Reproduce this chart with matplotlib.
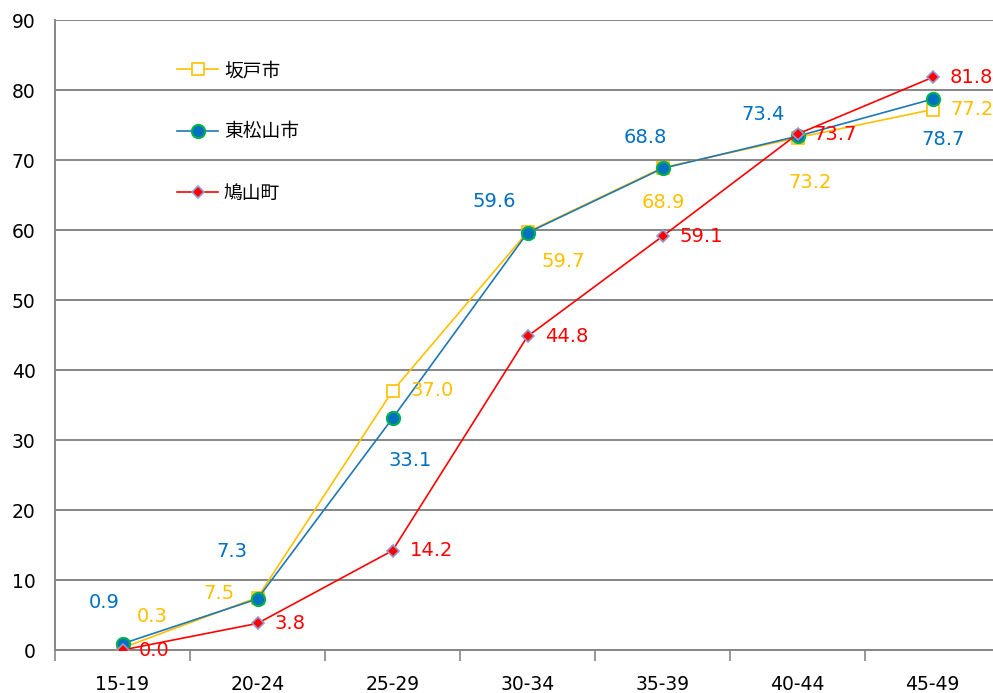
import matplotlib.pyplot as plt

plt.rcParams['font.family'] = ['DejaVu Sans', 'Noto Sans CJK JP']

ages = ['15-19', '20-24', '25-29', '30-34', '35-39', '40-44', '45-49']
sakado = [0.3, 7.5, 37.0, 59.7, 68.9, 73.2, 77.2]
higashimatsuyama = [0.9, 7.3, 33.1, 59.6, 68.8, 73.4, 78.7]
hatoyama = [0.0, 3.8, 14.2, 44.8, 59.1, 73.7, 81.8]

# label offsets in pixels (dx, dy) for each point
off_sakado = [(30, 31), (-39, 4), (40, 0), (36, -29), (1, -35), (13, -45), (40, 0)]
off_higashi = [(-18, 41), (-26, 47), (18, -42), (-33, 31), (-17, 31), (-34, 22), (11, -40)]
off_hatoyama = [(32, 0), (33, 0), (39, 0), (39, 0), (39, 0), (38, 0), (39, 0)]

fig = plt.figure(figsize=(9.93, 6.93), dpi=100)
ax = fig.add_axes([55 / 993, 43 / 693, 945 / 993, 630 / 693])
x = list(range(len(ages)))

ax.plot(x, sakado, color='#FFC000', lw=1.2, marker='s', ms=8.5,
        mfc='white', mec='#FFC000', mew=1.2, label='坂戸市', zorder=3)
ax.plot(x, higashimatsuyama, color='#1F77B4', lw=1.2, marker='o', ms=9.5,
        mfc='#0070C0', mec='#00B050', mew=1.5, label='東松山市', zorder=4)
ax.plot(x, hatoyama, color='#FF0000', lw=1.2, marker='D', ms=6,
        mfc='#FF0000', mec='#9999CC', mew=1.2, label='鳩山町', zorder=5)

for vals, offs, c in [(sakado, off_sakado, '#FFC000'),
                      (higashimatsuyama, off_higashi, '#0070C0'),
                      (hatoyama, off_hatoyama, '#FF0000')]:
    for i, (v, o) in enumerate(zip(vals, offs)):
        ax.annotate(f'{v:.1f}', (i, v), xytext=o, textcoords='offset pixels',
                    ha='center', va='center', color=c, fontsize=14, zorder=6)

ax.set_xlim(-0.5, len(ages) - 0.5)
ax.set_ylim(0, 90)
ax.set_yticks(range(0, 91, 10))
ax.set_xticks(x)
ax.set_xticklabels(ages)
ax.set_xticks([i - 0.5 for i in range(len(ages) + 1)], minor=True)
ax.tick_params(axis='x', which='major', length=0, pad=18, labelsize=13.5)
ax.tick_params(axis='x', which='minor', length=8, color='#868686', width=1.2)
ax.tick_params(axis='y', length=0, pad=14, labelsize=13.5)
ax.grid(axis='y', color='#868686', lw=1.4)
ax.set_axisbelow(True)
for s in ['top', 'right']:
    ax.spines[s].set_visible(False)
for s in ['left', 'bottom']:
    ax.spines[s].set_color('#868686')
    ax.spines[s].set_linewidth(1.4)

leg = ax.legend(loc='upper left', bbox_to_anchor=(177 / 993, 1 - 60 / 693),
                bbox_transform=fig.transFigure, frameon=False, handlelength=2.2,
                labelspacing=2.15, borderaxespad=0, borderpad=0, handletextpad=0.3,
                prop={'family': ['Noto Sans CJK JP'], 'size': 13.5})

fig.savefig('out.png', dpi=100)
